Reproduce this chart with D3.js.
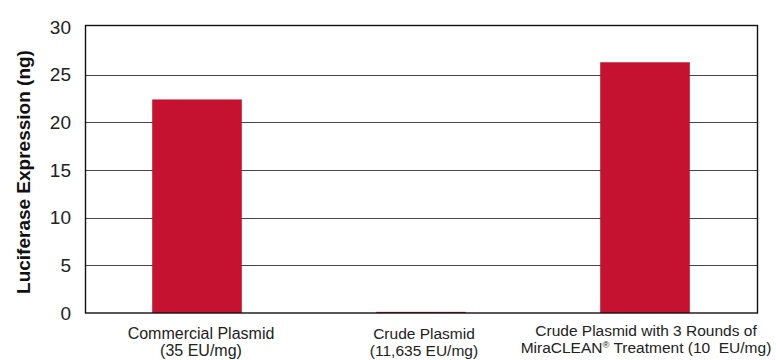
<!DOCTYPE html>
<html>
<head>
<meta charset="utf-8">
<script src="https://cdn.jsdelivr.net/npm/d3@7/dist/d3.min.js"></script>
<style>
  html, body { margin: 0; padding: 0; background: #fff; }
  svg { display: block; }
</style>
</head>
<body>
<svg id="chart" width="776" height="360"></svg>
<script>
// Luciferase expression by plasmid preparation
const categories = [
  ["Commercial Plasmid", "(35 EU/mg)"],
  ["Crude Plasmid", "(11,635 EU/mg)"],
  ["Crude Plasmid with 3 Rounds of", "MiraCLEAN\u00AE Treatment (10  EU/mg)"]
];
const expression = [22.4, 0.12, 26.3];
const yTicks = [0, 5, 10, 15, 20, 25, 30];
const yTitle = "Luciferase Expression (ng)";

const svg = d3.select("#chart");
const margin = { left: 85, right: 19, top: 27, bottom: 47 };
const W = 776, H = 360;

const x = d3.scaleBand()
  .domain(d3.range(categories.length))
  .range([margin.left, W - margin.right])
  .paddingInner(0.6)
  .paddingOuter(0.3);

const y = d3.scaleLinear()
  .domain([0, 30])
  .range([H - margin.bottom, margin.top]);

// horizontal gridlines
svg.append("g")
  .selectAll("line")
  .data(yTicks.filter(t => t > 0 && t < 30))
  .join("line")
  .attr("x1", margin.left)
  .attr("x2", W - margin.right)
  .attr("y1", d => Math.round(y(d)) + 0.5)
  .attr("y2", d => Math.round(y(d)) + 0.5)
  .attr("stroke", "#444")
  .attr("stroke-width", 1);

// bars
svg.append("g")
  .selectAll("rect")
  .data(expression)
  .join("rect")
  .attr("x", (d, i) => x(i))
  .attr("width", x.bandwidth())
  .attr("y", d => y(d))
  .attr("height", d => y(0) - y(d))
  .attr("fill", "#c41230");

// plot frame
svg.append("rect")
  .attr("x", margin.left + 0.5)
  .attr("y", Math.round(y(30)) - 1.5)
  .attr("width", W - margin.left - margin.right)
  .attr("height", Math.round(y(0)) - Math.round(y(30)) + 1.5)
  .attr("fill", "none")
  .attr("stroke", "#111")
  .attr("stroke-width", 1.4);

// y axis tick labels
const yAxis = d3.axisLeft(y).tickValues(yTicks).tickSize(0).tickPadding(14);
const ya = svg.append("g")
  .attr("transform", `translate(${margin.left},0)`)
  .call(yAxis);
ya.select(".domain").remove();
ya.selectAll("text")
  .attr("font-family", "'Liberation Sans', Arial, sans-serif")
  .attr("font-size", 19)
  .attr("fill", "#222");

// y axis title
svg.append("text")
  .attr("transform", `translate(30,${(y(0) + y(30)) / 2 + 2}) rotate(-90)`)
  .attr("text-anchor", "middle")
  .attr("font-family", "'Liberation Sans', Arial, sans-serif")
  .attr("font-weight", "bold")
  .attr("font-size", 19)
  .attr("fill", "#111")
  .text(yTitle);

// category labels (two lines each; the registered mark is set as a superscript)
const labelSize = [16, 15.5, 15.5];
const labelShift = [4, 3, 1];
const lineGap = 17;
categories.forEach((lines, i) => {
  const cx = x(i) + x.bandwidth() / 2 + labelShift[i];
  const top = i === 2 ? 336 : 339;
  lines.forEach((line, j) => {
    const t = svg.append("text")
      .attr("x", cx)
      .attr("y", top + j * lineGap)
      .attr("text-anchor", "middle")
      .attr("font-family", "'Liberation Sans', Arial, sans-serif")
      .attr("font-size", labelSize[i])
      .attr("fill", "#222")
      .style("white-space", "pre");
    const parts = line.split("\u00AE");
    parts.forEach((p, k) => {
      if (k > 0) {
        t.append("tspan")
          .attr("font-size", labelSize[i] * 0.6)
          .attr("dy", -5)
          .text("\u00AE");
        t.append("tspan").attr("dy", 5).text(p);
      } else {
        t.append("tspan").text(p);
      }
    });
  });
});
</script>
</body>
</html>
